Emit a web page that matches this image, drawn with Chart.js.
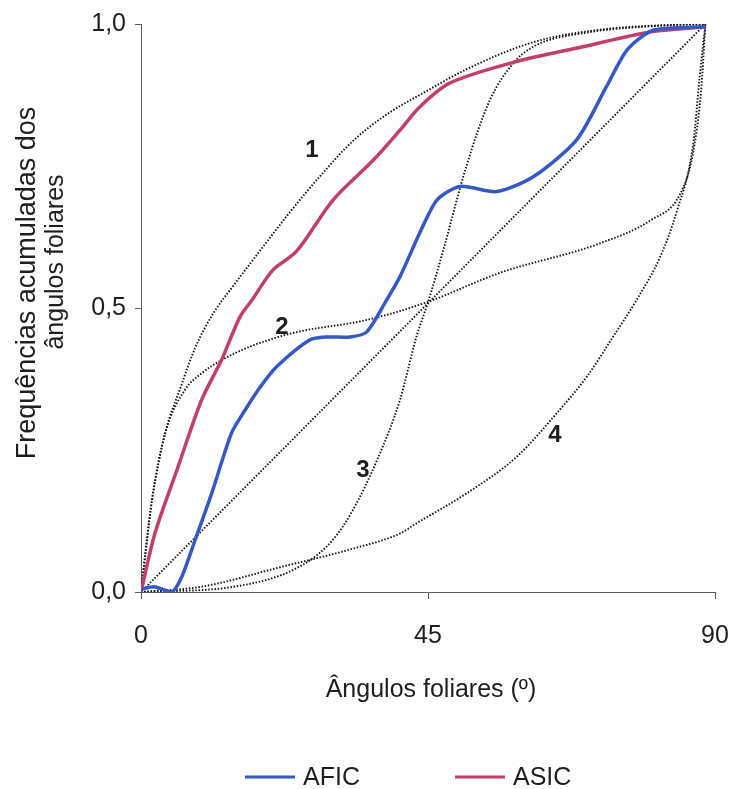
<!DOCTYPE html>
<html><head><meta charset="utf-8">
<script src="https://cdn.jsdelivr.net/npm/chart.js@4.4.0/dist/chart.umd.min.js"></script>
<style>html,body{margin:0;padding:0;background:#fff;}#wrap{width:737px;height:789px;}</style>
</head><body><div id="wrap"><canvas id="c" width="737" height="789"></canvas></div>
<script>
// ---- data ----
const xTicks = [0, 45, 90];
const yTicks = [0, 0.5, 1];
const yTickLabels = ['0,0', '0,5', '1,0'];
const xTitle = 'Ângulos foliares (º)';
const yTitle = ['Frequências acumuladas dos', 'ângulos foliares'];
const seriesNames = ['AFIC', 'ASIC'];
const curveNames = ['1', '2', '3', '4'];

const aficX = [0, 2.2, 4.8, 6.4, 8.5, 11.1, 14.2, 16.3, 18.7, 21.3, 26.5, 29.1, 32.8, 35.4, 38.5, 40.6, 43.7, 46.4, 50.0, 55.8, 61.5, 68.3, 73.0, 76.2, 80.3, 88.5];
const aficY = [0.005, 0.009, 0.0, 0.027, 0.092, 0.174, 0.28, 0.32, 0.361, 0.397, 0.444, 0.449, 0.449, 0.458, 0.514, 0.555, 0.632, 0.69, 0.714, 0.705, 0.731, 0.796, 0.89, 0.954, 0.989, 0.995];

const asicX = [0, 2.2, 5.8, 9.5, 12.6, 15.5, 17.4, 20.7, 24.4, 30.1, 36.4, 40.6, 43.7, 48.4, 58.9, 69.3, 79.8, 88.5];
const asicY = [0, 0.104, 0.22, 0.338, 0.408, 0.484, 0.514, 0.567, 0.60, 0.69, 0.76, 0.813, 0.854, 0.896, 0.934, 0.96, 0.986, 0.995];

const c1X = [0, 1.7, 3.8, 6.2, 8.5, 11.3, 14.4, 17.1, 19.7, 22.8, 26.0, 29.1, 32.2, 35.4, 39.5, 43.7, 51.0, 61.5, 72.0, 82.0, 88.5];
const c1Y = [0, 0.16, 0.28, 0.36, 0.43, 0.49, 0.538, 0.578, 0.616, 0.661, 0.705, 0.745, 0.783, 0.815, 0.848, 0.875, 0.92, 0.968, 0.99, 0.998, 1.0];

const c2X = [0, 1.7, 3.8, 6.9, 9.5, 12.6, 17.1, 23.8, 35.4, 44.8, 56.3, 72.0, 80.0, 84.5, 86.5, 87.8, 88.5];
const c2Y = [0, 0.16, 0.28, 0.356, 0.385, 0.408, 0.432, 0.456, 0.479, 0.51, 0.562, 0.614, 0.655, 0.70, 0.77, 0.88, 1.0];

const c3X = [0, 14.4, 24.9, 30.1, 33.2, 37.0, 40.6, 43.2, 45.0, 47.4, 51.0, 54.7, 58.3, 61.5, 70.0, 80.0, 88.5];
const c3Y = [0, 0.009, 0.045, 0.092, 0.144, 0.232, 0.338, 0.45, 0.51, 0.602, 0.749, 0.866, 0.93, 0.96, 0.985, 0.996, 1.0];

const c4X = [0, 9.3, 22.3, 32.8, 40.6, 43.2, 51.1, 58.9, 65.2, 69.9, 74.0, 77.7, 81.4, 84.0, 86.6, 87.6, 88.2, 88.5];
const c4Y = [0, 0.009, 0.045, 0.075, 0.103, 0.121, 0.174, 0.238, 0.315, 0.379, 0.449, 0.514, 0.59, 0.67, 0.79, 0.907, 0.97, 1.0];

const diagX = [0, 88.5];
const diagY = [0, 1.0];

// ---- presentation ----
const FONT = "'Liberation Sans', Arial, sans-serif";
const TXT = '#1e1e1e';
const AXIS = '#5a5a5a';
const BLUE = '#3458c6';
const RED = '#c23f6c';
const DOT = '#151515';

const pts = (xs, ys) => xs.map((x, i) => ({x: x, y: ys[i]}));

const dotted = (name, xs, ys) => ({
  label: name, data: pts(xs, ys), borderColor: DOT, borderWidth: 1.9,
  borderDash: [1.5, 1.7], pointRadius: 0, fill: false,
  cubicInterpolationMode: 'monotone', order: 5
});

// curve label anchors (data coordinates)
const curveLabelPos = [[26.8, 0.778], [22.1, 0.466], [34.8, 0.215], [64.9, 0.276]];

const annot = {
  id: 'annot',
  afterDatasetsDraw(chart) {
    const {ctx, scales: {x, y}} = chart;
    ctx.save();
    ctx.fillStyle = TXT;
    ctx.textAlign = 'center';
    ctx.textBaseline = 'middle';
    ctx.font = 'bold 24px ' + FONT;
    curveNames.forEach((t, i) => {
      ctx.fillText(t, x.getPixelForValue(curveLabelPos[i][0]), y.getPixelForValue(curveLabelPos[i][1]));
    });
    ctx.restore();
  },
  afterDraw(chart) {
    const {ctx} = chart;
    ctx.save();
    ctx.fillStyle = TXT;
    ctx.textAlign = 'center';
    ctx.textBaseline = 'middle';
    ctx.font = '25px ' + FONT;
    // x title
    ctx.fillText(xTitle, 431, 690);
    // y title (two lines, rotated)
    ctx.save();
    ctx.translate(28, 283);
    ctx.rotate(-Math.PI / 2);
    ctx.font = '27px ' + FONT;
    ctx.fillText(yTitle[0], 0, 0);
    ctx.restore();
    ctx.save();
    ctx.translate(56, 262);
    ctx.rotate(-Math.PI / 2);
    ctx.fillText(yTitle[1], 0, 0);
    ctx.restore();
    // legend
    const items = [[245, BLUE, seriesNames[0]], [455, RED, seriesNames[1]]];
    ctx.textAlign = 'left';
    items.forEach(([lx, col, name]) => {
      ctx.strokeStyle = col;
      ctx.lineWidth = 3;
      ctx.beginPath();
      ctx.moveTo(lx, 777);
      ctx.lineTo(lx + 50, 777);
      ctx.stroke();
      ctx.fillText(name, lx + 58, 778);
    });
    ctx.restore();
  }
};

new Chart(document.getElementById('c'), {
  type: 'line',
  data: {
    datasets: [
      {label: seriesNames[0], data: pts(aficX, aficY), borderColor: BLUE, borderWidth: 3.5, pointRadius: 0, tension: 0.25, order: 1},
      {label: seriesNames[1], data: pts(asicX, asicY), borderColor: RED, borderWidth: 3.5, pointRadius: 0, tension: 0.3, order: 2},
      dotted('1', c1X, c1Y),
      dotted('2', c2X, c2Y),
      dotted('3', c3X, c3Y),
      dotted('4', c4X, c4Y),
      dotted('uniforme', diagX, diagY)
    ]
  },
  options: {
    responsive: false,
    animation: false,
    devicePixelRatio: 1,
    layout: {padding: {top: 24, right: 22, left: 0, bottom: 0}},
    plugins: {legend: {display: false}, tooltip: {enabled: false}},
    scales: {
      x: {
        type: 'linear', min: 0, max: 90,
        afterBuildTicks: s => { s.ticks = xTicks.map(v => ({value: v})); },
        afterFit: s => { s.height = 197; s.paddingRight = 0; s.paddingLeft = 0; },
        grid: {display: true, drawOnChartArea: false, drawTicks: true, tickLength: 7, color: AXIS},
        border: {display: true, color: AXIS, width: 1},
        ticks: {padding: 22, color: TXT, font: {size: 25, family: FONT}, maxRotation: 0, autoSkip: false}
      },
      y: {
        type: 'linear', min: 0, max: 1,
        afterBuildTicks: s => { s.ticks = yTicks.map(v => ({value: v})); },
        afterFit: s => { s.width = 141; },
        grid: {display: true, drawOnChartArea: false, drawTicks: true, tickLength: 6, color: AXIS},
        border: {display: true, color: AXIS, width: 1},
        ticks: {padding: 9, color: TXT, font: {size: 25, family: FONT}, autoSkip: false,
          callback: (v) => yTickLabels[yTicks.indexOf(v)]}
      }
    }
  },
  plugins: [annot]
});
</script>
</body></html>
